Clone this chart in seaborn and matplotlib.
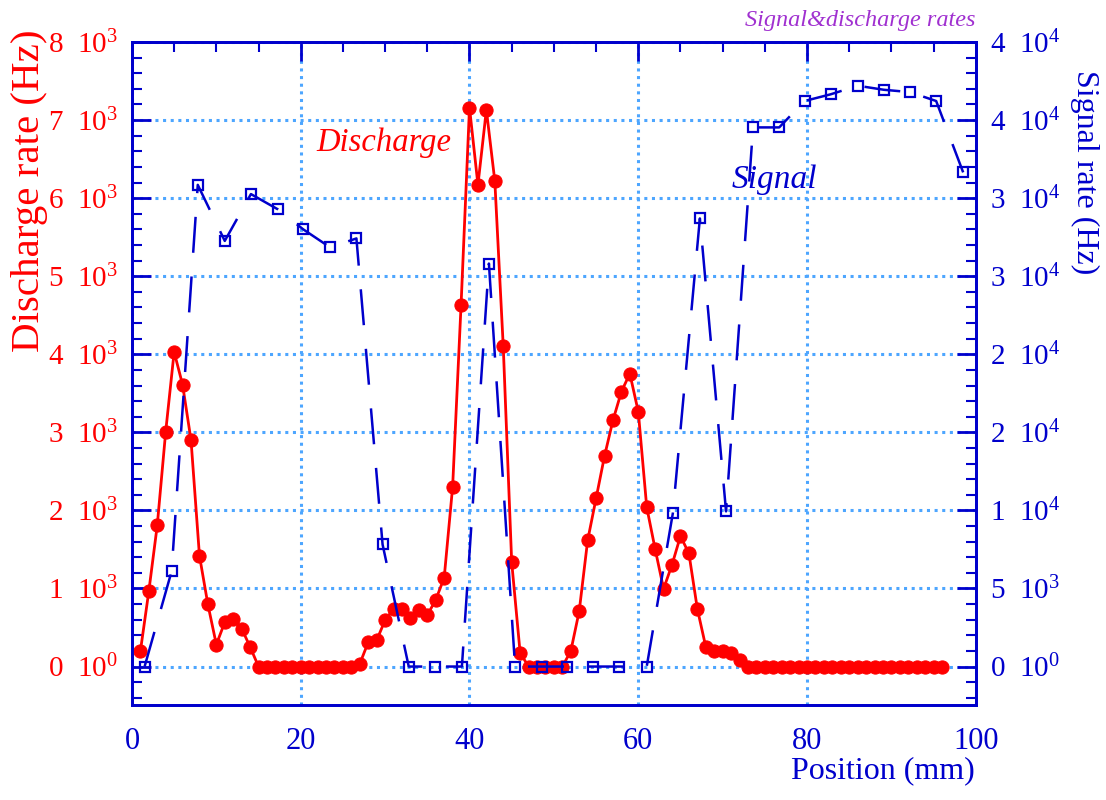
import matplotlib
matplotlib.use("Agg")
import numpy as np
import pandas as pd
import seaborn as sns
from matplotlib import pyplot as plt
from matplotlib.ticker import MultipleLocator, FixedLocator

# discharge rate (left axis), one point per mm
discharge_pos = list(range(1, 97))
discharge_rate = [
    196, 965, 1810, 3010, 4030, 3610, 2900, 1420, 795, 282,
    568, 603, 487, 252, 0, 0, 0, 0, 0, 0,
    0, 0, 0, 0, 0, 0, 35, 312, 337, 594,
    739, 739, 624, 718, 658, 855, 1137, 2300, 4630, 7160,
    6170, 7130, 6220, 4100, 1337, 175, 0, 0, 0, 0,
    0, 196, 709, 1615, 2154, 2696, 3154, 3521, 3752, 3265,
    2043, 1504, 996, 1304, 1671, 1449, 739, 252, 196, 196,
    175, 81, 0, 0, 0, 0, 0, 0, 0, 0,
    0, 0, 0, 0, 0, 0, 0, 0, 0, 0,
    0, 0, 0, 0, 0, 0,
]

# signal rate (right axis)
signal_pos = [1.5, 4.7, 7.8, 11.0, 14.1, 17.3, 20.3, 23.5, 26.6, 29.7,
              32.8, 35.9, 39.1, 42.3, 45.4, 48.6, 51.6, 54.6, 57.7, 61.0,
              64.1, 67.3, 70.4, 73.6, 76.7, 79.7, 82.8, 86.0, 89.1, 92.2,
              95.3, 98.5]
signal_rate = [0, 6100, 30850, 27260, 30260, 29280, 28000, 26840, 27420, 7820,
               0, 0, 0, 25810, 0, 0, 0, 0, 0, 0,
               9830, 28700, 9940, 34530, 34530, 36220, 36650, 37200, 36940, 36790,
               36220, 31650]

left_ticks = [0, 1000, 2000, 3000, 4000, 5000, 6000, 7000, 8000]
left_labels = ["0 10^0", "1 10^3", "2 10^3", "3 10^3", "4 10^3",
               "5 10^3", "6 10^3", "7 10^3", "8 10^3"]
right_ticks = [0, 5000, 10000, 15000, 20000, 25000, 30000, 35000, 40000]
right_labels = ["0 10^0", "5 10^3", "1 10^4", "2 10^4", "2 10^4",
                "3 10^4", "3 10^4", "4 10^4", "4 10^4"]

RED = "#ff0000"
BLUE = "#0000cc"
GRID = "#4da6ff"

sns.set_theme(style="white")
plt.rcParams["font.family"] = ["Liberation Serif", "DejaVu Serif"]
plt.rcParams["mathtext.fontset"] = "custom"
plt.rcParams["mathtext.rm"] = "Liberation Serif"
plt.rcParams["mathtext.it"] = "Liberation Serif:italic"


def mtext(s):
    base, exp = s.split("^")
    return "%s$^{\\mathrm{%s}}$" % (base.replace(" ", "  "), exp)


fig = plt.figure(figsize=(11.06, 8), dpi=100)
ax = fig.add_axes([0.1193, 0.119, 0.7630, 0.8285])
ax2 = ax.twinx()

df_d = pd.DataFrame({"pos": discharge_pos, "rate": discharge_rate})
df_s = pd.DataFrame({"pos": signal_pos, "rate": signal_rate})

sns.lineplot(data=df_d, x="pos", y="rate", ax=ax, color=RED, lw=2,
             marker="o", markersize=9.5, markeredgecolor=RED, zorder=4)
sns.lineplot(data=df_s, x="pos", y="rate", ax=ax2, color=BLUE, lw=1.8,
             dashes=False, marker="s", markersize=7.5, markerfacecolor="none",
             markeredgecolor=BLUE, markeredgewidth=1.6, zorder=3)
ax2.lines[0].set_dashes([14.4, 9.5])

ax.set_xlim(0, 100)
ax.set_ylim(-490, 8000)
ax2.set_ylim(-2450, 40000)

ax.xaxis.set_major_locator(MultipleLocator(20))
ax.xaxis.set_minor_locator(MultipleLocator(5))
ax.yaxis.set_major_locator(FixedLocator(left_ticks))
ax.yaxis.set_minor_locator(MultipleLocator(200))
ax.set_yticklabels([mtext(l) for l in left_labels])
ax2.yaxis.set_major_locator(FixedLocator(right_ticks))
ax2.yaxis.set_minor_locator(MultipleLocator(1000))
ax2.set_yticklabels([mtext(l) for l in right_labels])

ax.grid(True, which="major", color=GRID, ls=(0, (1, 1.5)), lw=2.2)
ax.set_axisbelow(True)

for a in (ax, ax2):
    for sp in a.spines.values():
        sp.set_color(BLUE)
        sp.set_linewidth(2)
ax.tick_params(axis="x", which="both", direction="in", top=True, colors=BLUE,
               labelsize=22, pad=16)
ax.tick_params(axis="x", which="major", length=14, width=2)
ax.tick_params(axis="x", which="minor", length=7, width=1.5)
ax.tick_params(axis="y", which="both", direction="in", colors=BLUE,
               labelcolor=RED, labelsize=21, pad=10)
ax.tick_params(axis="y", which="major", length=14, width=2)
ax.tick_params(axis="y", which="minor", length=7, width=1.5)
ax2.tick_params(axis="y", which="both", direction="in", colors=BLUE,
                labelcolor=BLUE, labelsize=21, pad=10)
ax2.tick_params(axis="y", which="major", length=14, width=2)
ax2.tick_params(axis="y", which="minor", length=7, width=1.5)

ax.set_xlabel("")
ax.set_ylabel("")
ax2.set_ylabel("")
fig.text(0.8816, 0.0275, "Position (mm)", color=BLUE, fontsize=23,
         ha="right", va="baseline")
fig.text(0.027, 0.9625, "Discharge rate (Hz)", color=RED, fontsize=29.5,
         rotation=90, ha="center", va="top")
fig.text(0.981, 0.9125, "Signal rate (Hz)", color=BLUE, fontsize=23,
         rotation=-90, ha="center", va="top")

ax.text(0.218, 0.835, "Discharge", transform=ax.transAxes, color=RED,
        fontsize=23.5, style="italic")
ax.text(0.711, 0.779, "Signal", transform=ax.transAxes, color=BLUE,
        fontsize=24, style="italic")
fig.text(0.882, 0.968, "Signal&discharge rates", color="#a030d0",
         fontsize=17.5, style="italic", ha="right")

fig.savefig("out.png", dpi=100)
